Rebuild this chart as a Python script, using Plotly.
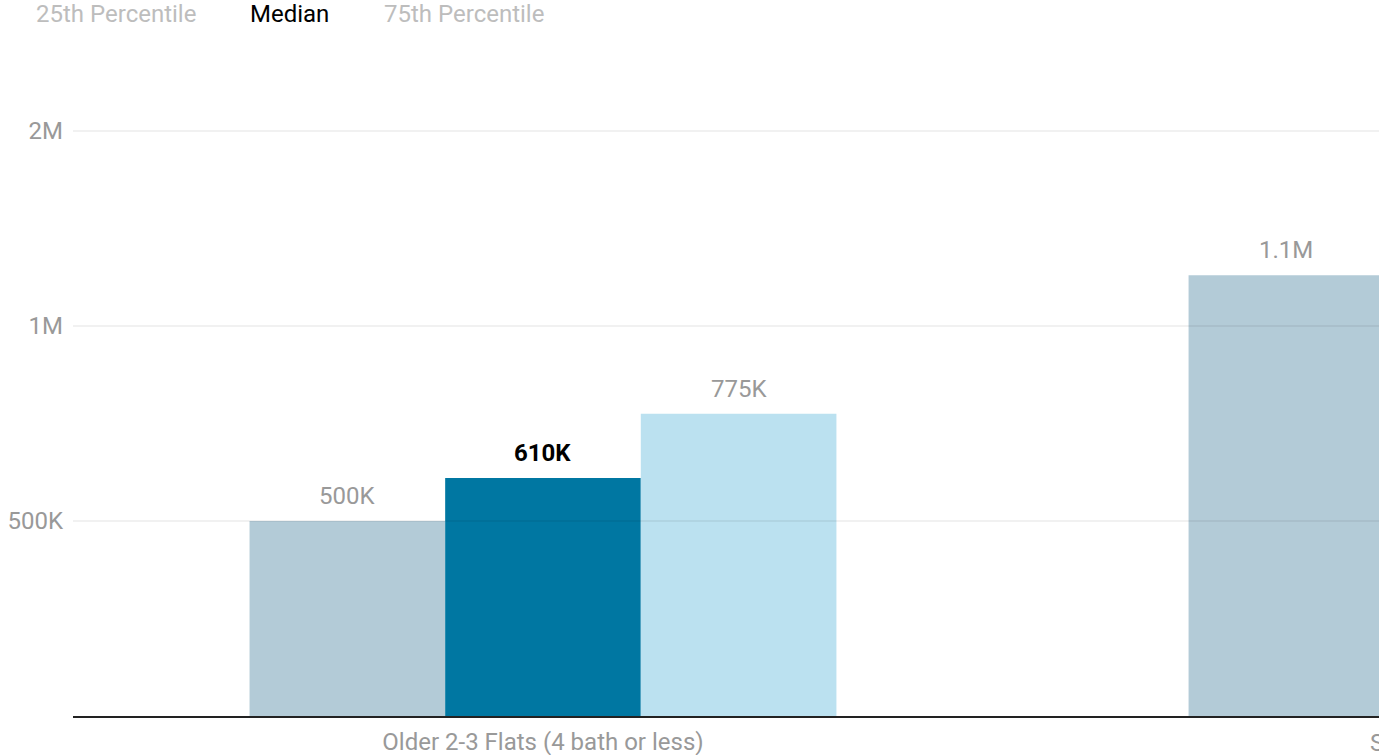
import plotly.graph_objects as go

categories = ["Older 2-3 Flats (4 bath or less)", "Single Family Homes"]
series_names = ["25th Percentile", "Median", "75th Percentile"]
p25 = [500000, 1130000]
median = [610000, None]
p75 = [775000, None]
value_labels = [["500K", "1.1M"], ["610K", None], ["775K", None]]

tick_vals = [500000, 1000000, 1500000]
tick_text = ["500K", "1M", "2M"]

colors = ["#b3cbd7", "#0077a2", "#bbe1f0"]
label_colors = ["#999999", "#000000", "#999999"]
legend_colors = ["#bdbdbd", "#000000", "#bdbdbd"]

BARGAP = 0.375
FONT = "Roboto"
FS = 24
x_range = [-0.5005, 0.8903]

fig = go.Figure()
series = [p25, median, p75]
for name, vals, col in zip(series_names, series, colors):
    fig.add_trace(go.Bar(x=list(range(len(categories))), y=vals, name=name,
                         marker=dict(color=col, line=dict(width=0)),
                         showlegend=False, hoverinfo="skip"))

annotations = []
w = (1 - BARGAP) / len(series)
for j, (vals, labs) in enumerate(zip(series, value_labels)):
    for i, (v, lab) in enumerate(zip(vals, labs)):
        if v is None:
            continue
        annotations.append(dict(
            x=i + (j - 1) * w, y=v, xref="x", yref="y", text=f"<b>{lab}</b>" if j == 1 else lab,
            showarrow=False, yanchor="middle", yshift=25,
            font=dict(family=FONT, size=FS, color=label_colors[j])))

# custom text legend
legend_x = [34, 248, 382]
for name, lx, lc in zip(series_names, legend_x, legend_colors):
    annotations.append(dict(
        x=(lx - 73) / 1306, y=(716 - 14) / 676, xref="paper", yref="paper",
        text=name, showarrow=False, xanchor="left", yanchor="middle",
        font=dict(family=FONT, size=FS, color=lc)))

# second category label (its tick lies beyond the visible range)
frac = (1 - x_range[0]) / (x_range[1] - x_range[0])
annotations.append(dict(
    x=frac, y=0, xref="paper", yref="paper", text=categories[1], showarrow=False,
    xanchor="center", yanchor="top", yshift=-11,
    font=dict(family=FONT, size=FS, color="#999999")))

shapes = [dict(type="line", xref="paper", yref="y", x0=0, x1=1, y0=t, y1=t, layer="above",
               line=dict(color="rgba(0,0,0,0.11)", width=1.2)) for t in tick_vals]

fig.update_layout(
    width=1379, height=755,
    margin=dict(l=73, r=0, t=40, b=39),
    paper_bgcolor="white", plot_bgcolor="white",
    barmode="group", bargap=BARGAP, bargroupgap=0,
    font=dict(family=FONT, size=FS, color="#999999"),
    annotations=annotations, shapes=shapes,
    xaxis=dict(range=x_range, tickvals=list(range(len(categories))), ticktext=categories,
               showgrid=False, zeroline=False, showline=True, linecolor="#222222", linewidth=2,
               ticks="", ticklabelstandoff=3,
               tickfont=dict(family=FONT, size=FS, color="#999999"), fixedrange=True),
    yaxis=dict(range=[0, 1733333], tickvals=tick_vals, ticktext=tick_text, showgrid=False,
               zeroline=False, showline=False, ticks="", ticklabelstandoff=9,
               tickfont=dict(family=FONT, size=FS, color="#999999"), fixedrange=True),
)

fig.write_html("out.html")
